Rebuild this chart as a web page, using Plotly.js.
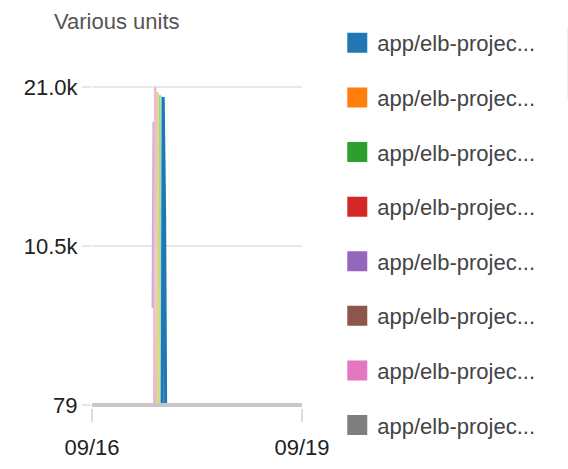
<!DOCTYPE html>
<html><head><meta charset="utf-8">
<script src="https://cdn.plot.ly/plotly-3.0.1.min.js"></script>
<style>
html,body{margin:0;padding:0;background:#fff;}
#chart{width:568px;height:469px;}
.legend .scrollbar{display:none !important;}
</style></head>
<body><div id="chart"></div>
<script>
// ---- data ----
const seriesNames = [
  'app/elb-projec...','app/elb-projec...','app/elb-projec...','app/elb-projec...','app/elb-projec...',
  'app/elb-projec...','app/elb-projec...','app/elb-projec...','app/elb-projec...','app/elb-projec...',
  'app/elb-projec...','app/elb-projec...','app/elb-projec...','app/elb-projec...','app/elb-projec...',
  'app/elb-projec...','app/elb-projec...','app/elb-projec...','app/elb-projec...','app/elb-projec...'
];
const seriesColors = [
  '#1f77b4','#ff7f0e','#2ca02c','#d62728','#9467bd','#8c564b','#e377c2','#7f7f7f','#bcbd22','#17becf',
  '#aec7e8','#ffbb78','#98df8a','#ff9896','#c5b0d5','#c49c94','#f7b6d2','#dbdb8d','#9edae5','#c7c7c7'
];
// flat series (stay at the minimum the whole period)
const flatTimes  = ['2020-09-16 00:00','2020-09-19 00:00'];
const flatValues = [79, 79];
// spiking series
const blueTimes   = ['2020-09-17 00:05','2020-09-17 00:25','2020-09-17 00:55','2020-09-17 01:15'];
const blueValues  = [79, 20340, 12450, 79];
const lavTimes    = ['2020-09-16 20:45','2020-09-16 21:05','2020-09-16 21:35'];
const lavValues   = [6460, 18700, 79];
const pinkTimes   = ['2020-09-16 21:15','2020-09-16 21:35','2020-09-16 22:05','2020-09-16 22:20'];
const pinkValues  = [79, 21000, 20500, 79];
const yelTimes    = ['2020-09-16 22:10','2020-09-16 22:35','2020-09-16 23:00'];
const yelValues   = [79, 20650, 79];
const lgrTimes    = ['2020-09-16 22:50','2020-09-16 23:15','2020-09-16 23:40'];
const lgrValues   = [79, 20470, 79];
const cyanTimes   = ['2020-09-16 23:40','2020-09-16 23:55','2020-09-17 00:30','2020-09-17 00:45'];
const cyanValues  = [79, 20400, 13800, 79];

const seriesTimes = [
  blueTimes, flatTimes, flatTimes, flatTimes, flatTimes, flatTimes, flatTimes, flatTimes, flatTimes, flatTimes,
  flatTimes, flatTimes, lgrTimes, flatTimes, lavTimes, flatTimes, pinkTimes, yelTimes, cyanTimes, flatTimes
];
const seriesValues = [
  blueValues, flatValues, flatValues, flatValues, flatValues, flatValues, flatValues, flatValues, flatValues, flatValues,
  flatValues, flatValues, lgrValues, flatValues, lavValues, flatValues, pinkValues, yelValues, cyanValues, flatValues
];
const seriesWidths = [3,2,2,2,2,2,2,2,2,2, 2,2,2,2,2,2,2,2,2,4];
const drawOrder = [1,2,3,4,5,6,7,8,9,10,11,12,13,14,15,16,17,18,0,19];

const xTickVals = ['2020-09-16','2020-09-19'];
const xTickText = ['09/16','09/19'];
const yTickVals = [79, 10539.5, 21000];
const yTickText = ['79','10.5k','21.0k'];

// ---- traces ----
const traces = [];
drawOrder.forEach(i=>{
  traces.push({type:'scatter', mode:'lines', x:seriesTimes[i], y:seriesValues[i], name:seriesNames[i],
    line:{color:seriesColors[i], width:seriesWidths[i]}, showlegend:false, hoverinfo:'skip'});
});
// legend entries (square swatches)
seriesNames.forEach((n,i)=>{
  traces.push({type:'scatter', mode:'markers', x:[null], y:[null], name:n, legendgroup:'g'+i,
    marker:{symbol:'square', size:16, color:seriesColors[i], line:{color:seriesColors[i], width:4}},
    showlegend:true, hoverinfo:'skip'});
});

const layout = {
  width:568, height:469,
  margin:{l:92, r:266, t:84, b:61, pad:0, autoexpand:false},
  paper_bgcolor:'#ffffff', plot_bgcolor:'#ffffff',
  font:{family:'"Liberation Sans", Arial, sans-serif', size:22, color:'#222'},
  xaxis:{type:'date', range:['2020-09-16','2020-09-19'], tickmode:'array', tickvals:xTickVals, ticktext:xTickText,
    ticks:'outside', ticklen:13, tickcolor:'#dddddd', tickwidth:1.5, showgrid:false, zeroline:false, showline:false,
    ticklabelstandoff:7, tickfont:{size:22, color:'#222'}, automargin:false},
  yaxis:{range:[-120,21200], tickmode:'array', tickvals:yTickVals, ticktext:yTickText,
    ticks:'outside', ticklen:9, tickcolor:'#e6e6e6', tickwidth:1.5, showgrid:true, gridcolor:'#e8e8e8', gridwidth:1.5,
    zeroline:false, showline:false, tickfont:{size:22, color:'#222'}, automargin:false},
  showlegend:true,
  legend:{x:1.168, xanchor:'left', yref:'container', y:0.953, yanchor:'top', maxheight:460,
    font:{size:22, color:'#444'}, tracegroupgap:23, bgcolor:'rgba(0,0,0,0)', itemsizing:'trace'},
  annotations:[{text:'Various units', xref:'paper', yref:'paper', x:-0.19, y:1.194, xanchor:'left', yanchor:'middle',
    showarrow:false, font:{size:22, color:'#555'}}],
  shapes:[{type:'rect', xref:'paper', yref:'paper', x0:2.262, x1:2.3, y0:0.9568, y1:1.1728,
    fillcolor:'#efefef', line:{width:0}, layer:'above'}]
};

Plotly.newPlot('chart', traces, layout, {displayModeBar:false, staticPlot:true});
</script>
</body></html>
